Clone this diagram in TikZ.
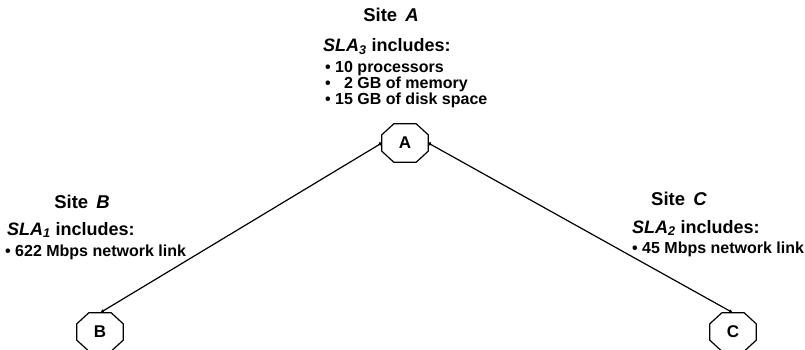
\documentclass[tikz,border=0pt]{standalone}
\usepackage{fontspec}
\setmainfont{Liberation Sans}
\usetikzlibrary{arrows.meta}
\begin{document}
\begin{tikzpicture}[x=1pt,y=-1pt,
  site/.style={font=\bfseries\fontsize{18.5}{20}\selectfont, anchor=base, inner sep=0pt},
  slahead/.style={font=\bfseries\fontsize{18}{20}\selectfont, anchor=base west, inner sep=0pt},
  item/.style={font=\bfseries\fontsize{16}{18}\selectfont, anchor=base west, inner sep=0pt},
  oct/.style={minimum width=46pt, minimum height=38pt, inner sep=0pt, font=\bfseries\fontsize{17}{19}\selectfont},
  octline/.style={draw=black, line width=1.2pt, line join=miter},
  link/.style={draw=black, line width=1.2pt, {Circle[length=3.5pt]}-{Latex[length=4pt,width=3.5pt]}}
]
\useasboundingbox (0,0) rectangle (805,350);

% site octagons
\node[oct] (A) at (405,143) {A};
\node[oct] (B) at (100,332) {B};
\node[oct] (C) at (733,332) {C};
\foreach \n in {A,B,C}{
  \draw[octline] ([xshift=12pt]\n.north west) -- ([xshift=-12pt]\n.north east)
    -- ([yshift=-11pt]\n.north east) -- ([yshift=11pt]\n.south east)
    -- ([xshift=-12pt]\n.south east) -- ([xshift=12pt]\n.south west)
    -- ([yshift=11pt]\n.south west) -- ([yshift=-11pt]\n.north west) -- cycle;
}

% links
\draw[link] (A.west) -- (B.north);
\draw[link] (A.east) -- (C.north);

% Site A
\node[site] (sa) at (391,22) {Site\hspace{3pt} \textit{A}};
\node[slahead] (sah) at (323,52) {\textit{SLA}\textsubscript{\textit{3}} includes:};
\node[item] (sa1) at (325,73) {• 10 processors};
\node[item] (sa2) at (325,89) {• \phantom{1}2 GB of memory};
\node[item] (sa3) at (325,105) {• 15 GB of disk space};

% Site B
\node[site] (sb) at (82,208) {Site\hspace{3pt} \textit{B}};
\node[slahead] (sbh) at (7,235) {\textit{SLA}\textsubscript{\textit{1}} includes:};
\node[item] (sb1) at (5,256) {• 622 Mbps network link};

% Site C
\node[site] (sc) at (679,205) {Site\hspace{3pt} \textit{C}};
\node[slahead] (sch) at (632,233) {\textit{SLA}\textsubscript{\textit{2}} includes:};
\node[item] (sc1) at (632,253) {• 45 Mbps network link};
\end{tikzpicture}
\end{document}
